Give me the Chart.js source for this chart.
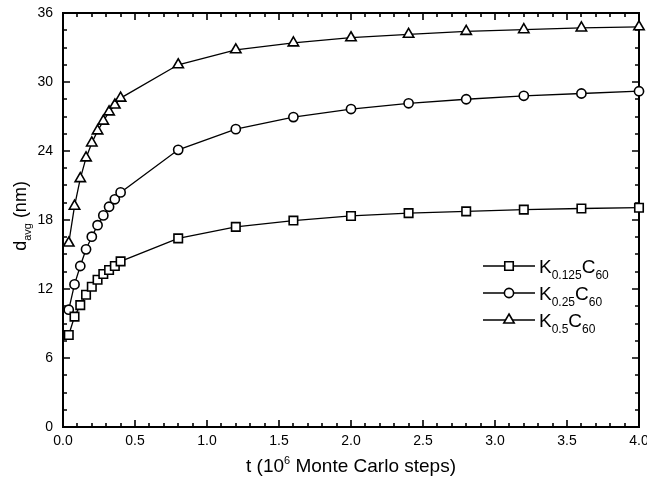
<!DOCTYPE html>
<html>
<head>
<meta charset="utf-8">
<script src="https://cdn.jsdelivr.net/npm/chart.js@4/dist/chart.umd.min.js"></script>
<style>
  html, body { margin: 0; padding: 0; background: #fff; }
  #wrap { width: 647px; height: 480px; }
</style>
</head>
<body>
<div id="wrap"><canvas id="chart" width="647" height="480"></canvas></div>
<script>
// time in 10^6 Monte Carlo steps
var tSteps = [0.04, 0.08, 0.12, 0.16, 0.20, 0.24, 0.28, 0.32, 0.36, 0.40,
              0.8, 1.2, 1.6, 2.0, 2.4, 2.8, 3.2, 3.6, 4.0];
// average domain size d_avg (nm)
var dK0125 = [8.0, 9.6, 10.6, 11.5, 12.2, 12.8, 13.3, 13.65, 14.0, 14.4,
              16.4, 17.4, 17.95, 18.35, 18.6, 18.75, 18.9, 19.0, 19.07];
var dK025  = [10.2, 12.4, 14.0, 15.45, 16.55, 17.55, 18.4, 19.15, 19.8, 20.4,
              24.1, 25.9, 26.95, 27.65, 28.15, 28.5, 28.8, 29.0, 29.2];
var dK05   = [16.0, 19.2, 21.6, 23.4, 24.7, 25.75, 26.6, 27.4, 28.0, 28.6,
              31.5, 32.8, 33.4, 33.85, 34.15, 34.4, 34.55, 34.7, 34.8];
var seriesNames = ["0.125", "0.25", "0.5"];
var xTicks = [0, 0.5, 1, 1.5, 2, 2.5, 3, 3.5, 4];
var yTicks = [0, 6, 12, 18, 24, 30, 36];

var FONT = "'Liberation Sans', Arial, Helvetica, sans-serif";

function pts(ys) {
  return tSteps.map(function(t, i){ return {x: t, y: ys[i]}; });
}

function series(label, ys, style, r) {
  return {
    label: label,
    data: pts(ys),
    borderColor: '#000',
    borderWidth: 1.3,
    pointStyle: style,
    pointRadius: r,
    pointHoverRadius: r,
    pointBackgroundColor: '#fff',
    pointBorderColor: '#000',
    pointBorderWidth: 1.6,
    clip: false,
    tension: 0
  };
}

// draws text pieces with sub/superscripts, returns width
function drawParts(ctx, x, y, parts, measureOnly) {
  var cx = x;
  parts.forEach(function(p){
    ctx.font = p.size + 'px ' + FONT;
    if (!measureOnly) ctx.fillText(p.t, cx, y + (p.dy || 0));
    cx += ctx.measureText(p.t).width;
  });
  return cx - x;
}

var decor = {
  id: 'decor',
  beforeDatasetsDraw: function(chart) {
    var ctx = chart.ctx, a = chart.chartArea;
    var x = chart.scales.x, y = chart.scales.y;
    ctx.save();
    ctx.strokeStyle = '#000';
    ctx.lineWidth = 2;
    ctx.strokeRect(a.left, a.top, a.right - a.left, a.bottom - a.top);
    ctx.lineWidth = 1.6;
    ctx.beginPath();
    for (var i = 0; i <= 40; i++) {
      var px = Math.round(x.getPixelForValue(i / 10));
      var len = (i % 5 === 0) ? 7 : 4;
      ctx.moveTo(px, a.bottom); ctx.lineTo(px, a.bottom - len);
      ctx.moveTo(px, a.top); ctx.lineTo(px, a.top + len);
    }
    for (var j = 0; j <= 24; j++) {
      var py = Math.round(y.getPixelForValue(j * 1.5));
      var l2 = (j % 4 === 0) ? 7 : 4;
      ctx.moveTo(a.left, py); ctx.lineTo(a.left + l2, py);
      ctx.moveTo(a.right, py); ctx.lineTo(a.right - l2, py);
    }
    ctx.stroke();
    ctx.restore();
  },
  afterDraw: function(chart) {
    var ctx = chart.ctx, a = chart.chartArea;
    ctx.save();
    ctx.fillStyle = '#000';
    ctx.textBaseline = 'alphabetic';

    // x axis title
    var xt = [{t: 't (10', size: 19}, {t: '6', size: 11, dy: -8}, {t: ' Monte Carlo steps)', size: 19}];
    var w = drawParts(ctx, 0, 0, xt, true);
    drawParts(ctx, (a.left + a.right) / 2 - w / 2, 472, xt);

    // y axis title
    var yt = [{t: 'd', size: 18}, {t: 'avg', size: 11, dy: 5}, {t: ' (nm)', size: 18}];
    ctx.save();
    ctx.translate(26, 216);
    ctx.rotate(-Math.PI / 2);
    var wy = drawParts(ctx, 0, 0, yt, true);
    drawParts(ctx, -wy / 2, 0, yt);
    ctx.restore();

    // legend
    var rows = [266, 293, 320];
    rows.forEach(function(ry, k){
      var ds = chart.data.datasets[k];
      ctx.strokeStyle = '#000';
      ctx.lineWidth = 1.3;
      ctx.beginPath();
      ctx.moveTo(483, ry); ctx.lineTo(535, ry);
      ctx.stroke();
      ctx.lineWidth = ds.pointBorderWidth;
      ctx.fillStyle = '#fff';
      Chart.helpers.drawPoint(ctx, {pointStyle: ds.pointStyle, radius: ds.pointRadius, borderWidth: ds.pointBorderWidth}, 509, ry);
      ctx.fillStyle = '#000';
      drawParts(ctx, 539, ry + 7, [
        {t: 'K', size: 19},
        {t: seriesNames[k], size: 12, dy: 6},
        {t: 'C', size: 19},
        {t: '60', size: 12, dy: 6}
      ]);
    });
    ctx.restore();
  }
};

new Chart(document.getElementById('chart'), {
  type: 'line',
  data: {
    datasets: [
      series('K0.125C60', dK0125, 'rect', 6),
      series('K0.25C60', dK025, 'circle', 4.6),
      series('K0.5C60', dK05, 'triangle', 6)
    ]
  },
  options: {
    responsive: false,
    animation: false,
    events: [],
    layout: { padding: { top: 13, right: 8, left: 0, bottom: 0 } },
    plugins: { legend: { display: false }, tooltip: { enabled: false } },
    scales: {
      x: {
        type: 'linear', min: 0, max: 4,
        afterBuildTicks: function(s){ s.ticks = xTicks.map(function(v){ return {value: v}; }); },
        afterFit: function(s){ s.height = 53; s.paddingLeft = 0; s.paddingRight = 0; },
        grid: { display: false, drawTicks: false },
        border: { display: false },
        ticks: {
          color: '#000', padding: 6, maxRotation: 0,
          font: { family: FONT, size: 14 },
          callback: function(v){ return v.toFixed(1); }
        }
      },
      y: {
        type: 'linear', min: 0, max: 36,
        afterBuildTicks: function(s){ s.ticks = yTicks.map(function(v){ return {value: v}; }); },
        afterFit: function(s){ s.width = 63; s.paddingTop = 0; s.paddingBottom = 0; },
        grid: { display: false, drawTicks: false },
        border: { display: false },
        ticks: {
          color: '#000', padding: 10,
          font: { family: FONT, size: 14 }
        }
      }
    }
  },
  plugins: [decor]
});
</script>
</body>
</html>
